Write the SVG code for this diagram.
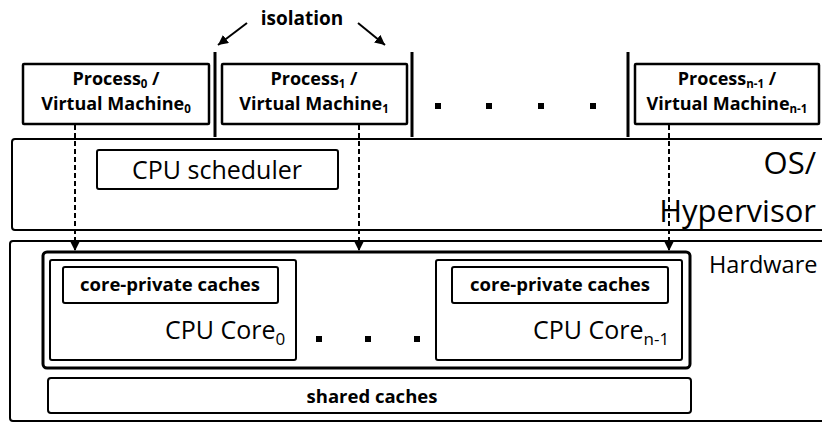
<svg xmlns="http://www.w3.org/2000/svg" width="822" height="423" viewBox="0 0 822 423">
  <defs>
    <marker id="head" viewBox="0 0 10 10" refX="10" refY="5" markerWidth="10" markerHeight="10" markerUnits="userSpaceOnUse" orient="auto">
      <path d="M0,0 L10,5 L0,10 z" fill="#000"/>
    </marker>
    <marker id="headBig" viewBox="0 0 10 10" refX="10" refY="5" markerWidth="13" markerHeight="11" markerUnits="userSpaceOnUse" orient="auto">
      <path d="M0,0 L10,5 L0,10 z" fill="#000"/>
    </marker>
    <style>
      .box { fill: #fff; stroke: #000; stroke-width: 2; }
      .proc { fill: #fff; stroke: #000; stroke-width: 2.5; }
      .thick { fill: none; stroke: #000; stroke-width: 3; }
      .sep { stroke: #000; stroke-width: 3; }
      .b { font-family: "Open Sans", "Liberation Sans", sans-serif; font-weight: bold; fill: #000; }
      .r { font-family: "Open Sans", "Liberation Sans", sans-serif; font-weight: normal; fill: #000; }
      .dash { fill: none; stroke: #000; stroke-width: 2; stroke-dasharray: 5 3; }
      .solid { fill: none; stroke: #000; stroke-width: 2; }
      .dot { fill: #000; }
    </style>
  </defs>

  <!-- OS / hypervisor layer -->
  <g id="os">
    <rect class="box" x="12" y="139" width="830" height="91" rx="3"/>
    <text class="r" x="816" y="174" font-size="31" text-anchor="end">OS/</text>
    <text class="r" x="816" y="222" font-size="31" text-anchor="end">Hypervisor</text>
  </g>

  <g id="scheduler">
    <rect class="box" x="97" y="150" width="241" height="39" rx="2"/>
    <text class="r" x="217" y="179" font-size="25" text-anchor="middle">CPU scheduler</text>
  </g>

  <!-- hardware layer -->
  <g id="hardware">
    <rect class="box" x="10" y="241" width="830" height="180" rx="3"/>
    <text class="r" x="709" y="273" font-size="23.5">Hardware</text>
  </g>

  <g id="cores">
    <rect class="thick" x="43" y="252" width="647" height="116" rx="4"/>
    <rect class="dot" x="316" y="336" width="6" height="6"/>
    <rect class="dot" x="365" y="336" width="6" height="6"/>
    <rect class="dot" x="414" y="336" width="6" height="6"/>
  </g>

  <g id="core0">
    <rect class="box" x="50" y="260" width="246" height="100" rx="2"/>
    <rect class="box" x="63" y="267" width="215" height="36" rx="2"/>
    <text class="b" x="170" y="291" font-size="18.5" text-anchor="middle">core-private caches</text>
    <text class="r" x="165" y="339" font-size="25">CPU Core<tspan dy="6" font-size="17">0</tspan></text>
  </g>

  <g id="coreN">
    <rect class="box" x="436" y="260" width="246" height="100" rx="2"/>
    <rect class="box" x="452" y="267" width="216" height="36" rx="2"/>
    <text class="b" x="560" y="291" font-size="18.5" text-anchor="middle">core-private caches</text>
    <text class="r" x="533" y="339" font-size="25">CPU Core<tspan dy="6" font-size="17">n-1</tspan></text>
  </g>

  <g id="shared">
    <rect class="box" x="48" y="378" width="643" height="35" rx="3"/>
    <text class="b" x="372" y="403" font-size="18.5" text-anchor="middle">shared caches</text>
  </g>

  <!-- processes / virtual machines -->
  <g id="proc0">
    <rect class="proc" x="23" y="64" width="186" height="60" rx="1"/>
    <text class="b" x="116" y="85" font-size="18" text-anchor="middle">Process<tspan dy="3" font-size="11.5">0</tspan><tspan dy="-3"> /</tspan></text>
    <text class="b" x="116" y="110" font-size="18" text-anchor="middle">Virtual Machine<tspan dy="3" font-size="11.5">0</tspan></text>
  </g>

  <g id="proc1">
    <rect class="proc" x="222" y="64" width="185" height="60" rx="1"/>
    <text class="b" x="314" y="85" font-size="18" text-anchor="middle">Process<tspan dy="3" font-size="11.5">1</tspan><tspan dy="-3"> /</tspan></text>
    <text class="b" x="314" y="110" font-size="18" text-anchor="middle">Virtual Machine<tspan dy="3" font-size="11.5">1</tspan></text>
  </g>

  <g id="procN">
    <rect class="proc" x="635" y="64" width="184" height="60" rx="1"/>
    <text class="b" x="727" y="85" font-size="18" text-anchor="middle">Process<tspan dy="3" font-size="11.5">n-1</tspan><tspan dy="-3"> /</tspan></text>
    <text class="b" x="727" y="110" font-size="18" text-anchor="middle">Virtual Machine<tspan dy="3" font-size="11.5">n-1</tspan></text>
  </g>

  <g id="ellipsis">
    <rect class="dot" x="435" y="103" width="6" height="6"/>
    <rect class="dot" x="486" y="103" width="6" height="6"/>
    <rect class="dot" x="538" y="103" width="6" height="6"/>
    <rect class="dot" x="590" y="103" width="6" height="6"/>
  </g>

  <!-- isolation boundaries -->
  <g id="isolation">
    <line class="sep" x1="215" y1="52" x2="215" y2="137"/>
    <line class="sep" x1="412" y1="52" x2="412" y2="137"/>
    <line class="sep" x1="628" y1="52" x2="628" y2="137"/>
    <text class="b" x="302" y="25" font-size="19" text-anchor="middle">isolation</text>
  </g>

  <!-- connectors -->
  <g id="connectors">
    <line class="solid" x1="247" y1="23" x2="218" y2="45" marker-end="url(#head)"/>
    <line class="solid" x1="358" y1="23" x2="385" y2="45" marker-end="url(#head)"/>
    <line class="dash" x1="75" y1="125" x2="75" y2="251" marker-end="url(#headBig)"/>
    <line class="dash" x1="359" y1="125" x2="359" y2="251" marker-end="url(#headBig)"/>
    <line class="dash" x1="669" y1="125" x2="669" y2="251" marker-end="url(#headBig)"/>
  </g>
</svg>
